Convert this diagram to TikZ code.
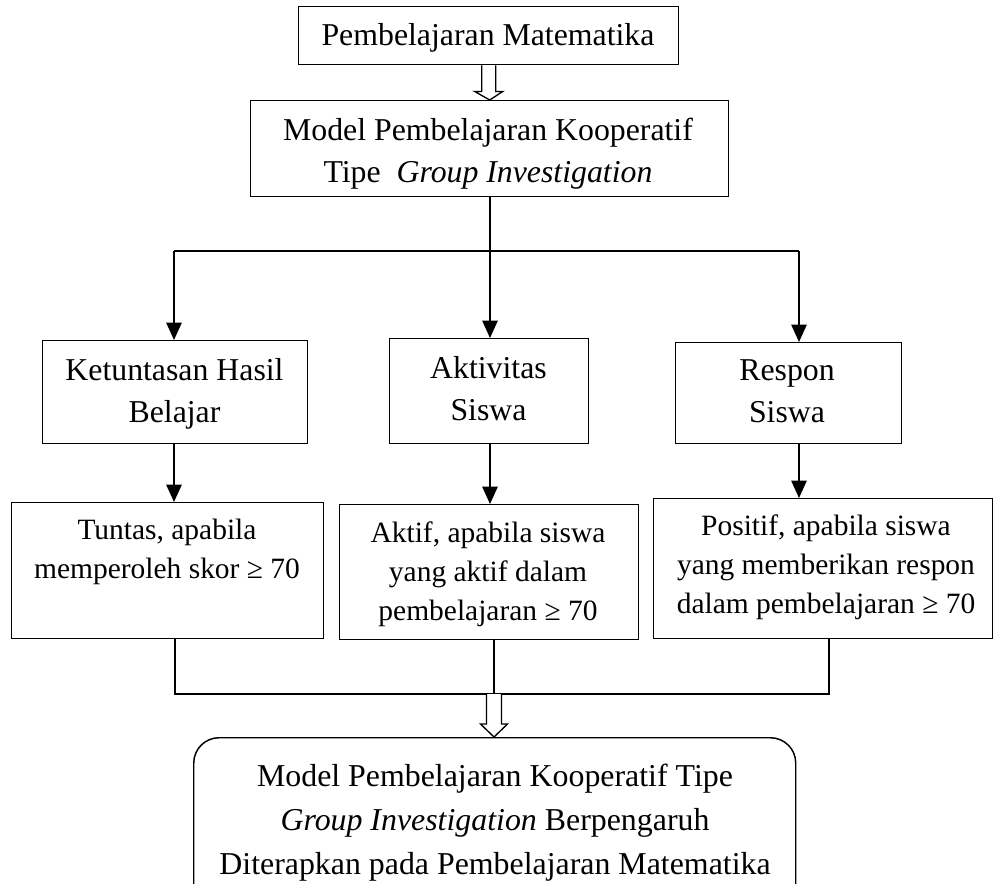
\documentclass[tikz,border=0pt]{standalone}
\usepackage{fontspec}
\setmainfont{Liberation Serif}
\usetikzlibrary{arrows.meta,calc}
\newcommand{\pxu}{0.75pt}
\begin{document}
\begin{tikzpicture}[x=0.75pt,y=-0.75pt,
  box/.style={draw, line width=1.1pt, inner sep=0pt, anchor=north west},
  big/.style={align=center, inner sep=0pt, font=\fontsize{23.85pt}{31.5pt}\selectfont},
  small/.style={align=center, inner sep=0pt, font=\fontsize{22.1pt}{29.25pt}\selectfont},
  arr/.style={line width=1.2pt, -{Triangle[length=13pt,width=11.5pt]}},
  link/.style={line width=1.2pt},
  thin link/.style={line width=0.9pt},
  hollow/.style={line width=1pt, fill=white, line join=miter}]
\useasboundingbox (0,0) rectangle (996,883);
\clip (0,0) rectangle (996,883);

% boxes
\node[box, minimum width=380*\pxu, minimum height=58*\pxu] (top) at (298,6) {};
\node[box, minimum width=478*\pxu, minimum height=96*\pxu] (gi) at (250,100) {};
\node[box, minimum width=265*\pxu, minimum height=103*\pxu] (k) at (42,340) {};
\node[box, minimum width=199*\pxu, minimum height=105*\pxu] (a) at (389,338) {};
\node[box, minimum width=226*\pxu, minimum height=101*\pxu] (r) at (675,342) {};
\node[box, minimum width=312*\pxu, minimum height=136*\pxu] (tn) at (11,502) {};
\node[box, minimum width=299*\pxu, minimum height=135*\pxu] (ak) at (339,504) {};
\node[box, minimum width=339*\pxu, minimum height=140*\pxu] (ps) at (653,498) {};
\node[box, rounded corners=19pt, minimum width=602*\pxu, minimum height=200*\pxu] (bt) at (193,737) {};

% texts
\node[big] (ttop) at (488,38) {Pembelajaran Matematika};
\node[big] (tgi) at (488,153.6) {Model Pembelajaran Kooperatif\\Tipe\ \ \textit{Group Investigation}};
\node[big] (tk) at (174.5,393.6) {Ketuntasan Hasil\\Belajar};
\node[big] (ta) at (488.5,388.2) {Aktivitas\\Siswa};
\node[big] (tr) at (787,391.7) {Respon\\Siswa};
\node[small] (ttn) at (167,552) {Tuntas, apabila\\memperoleh skor ≥ 70};
\node[small] (tak) at (488,574) {Aktif, apabila siswa\\yang aktif dalam\\pembelajaran ≥ 70};
\node[small] (tps) at (826,567) {Positif, apabila siswa\\yang memberikan respon\\dalam pembelajaran ≥ 70};
\node[big, font=\fontsize{23.9pt}{33pt}\selectfont] (tbt) at (495,822.6) {Model Pembelajaran Kooperatif Tipe\\\textit{Group Investigation} Berpengaruh\\Diterapkan pada Pembelajaran Matematika};

% top hollow arrow
\draw[hollow] ($(top.south)+(-7,0)$) -- ++(0,26) -- ++(-7,0) -- (gi.north) -- ($(top.south)+(14,26)$) -- ++(-7,0) -- ++(0,-26);

% distribution
\coordinate (cL) at (174,251);
\coordinate (cM) at (490,251);
\coordinate (cR) at (799,251);
\draw[link] (gi.south -| cM) -- (cM);
\draw[link] (cL) -- (cR);
\draw[arr] (cL) -- (k.north -| cL);
\draw[arr] (cM) -- (a.north -| cM);
\draw[arr] (cR) -- (r.north -| cR);
\draw[arr] (k.south -| cL) -- (tn.north -| cL);
\draw[arr] (a.south -| cM) -- (ak.north -| cM);
\draw[arr] (r.south -| cR) -- (ps.north -| cR);

% join
\coordinate (jL) at (175,694);
\coordinate (jM) at (494,694);
\coordinate (jR) at (829,694);
\draw[thin link] (tn.south -| jL) -- (jL) -- (jR) -- (ps.south -| jR);
\draw[thin link] (ak.south -| jM) -- (jM);
\draw[hollow] ($(jM)+(-7.5,0)$) -- ++(0,30) -- ++(-6,0) -- (bt.north -| jM) -- ($(jM)+(13.5,30)$) -- ++(-6,0) -- ++(0,-30);
\end{tikzpicture}
\end{document}
